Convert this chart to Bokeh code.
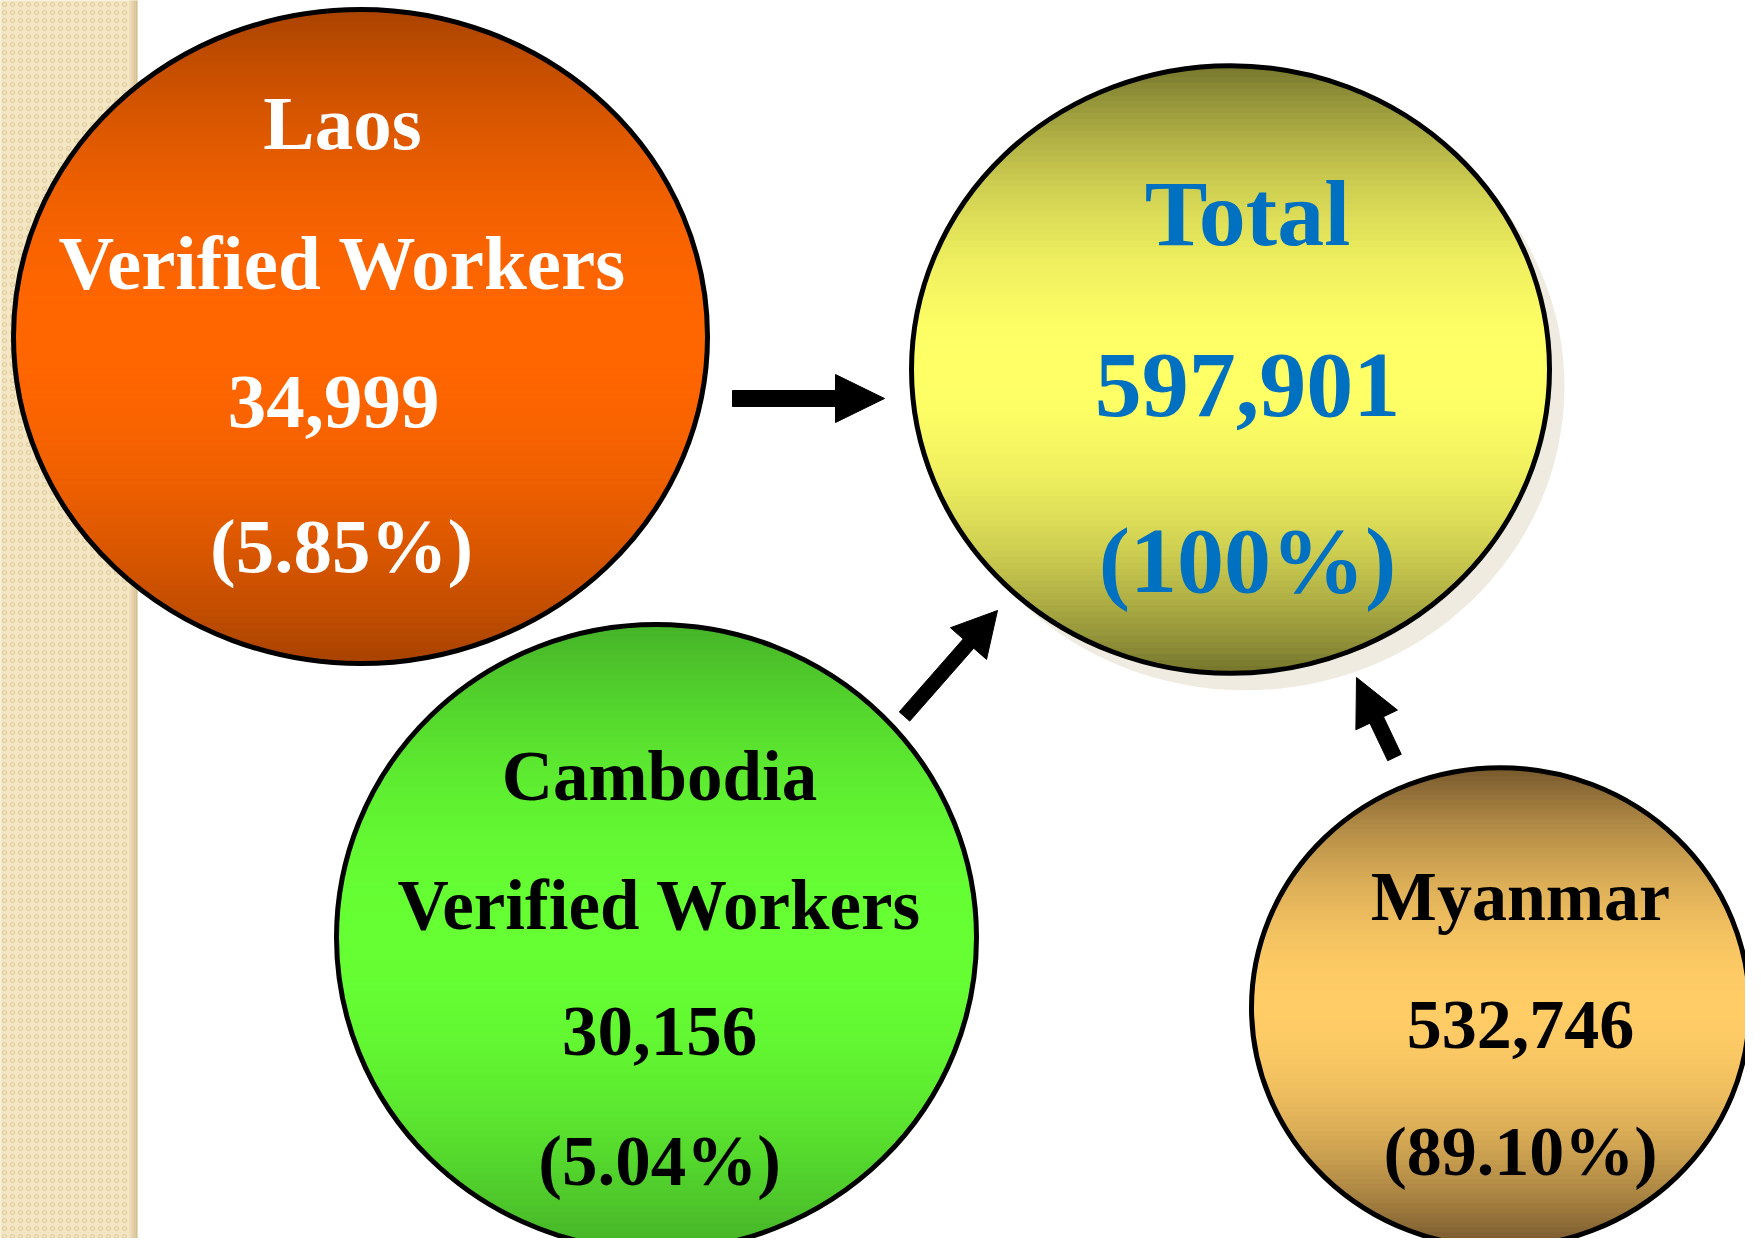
import numpy as np
from bokeh.plotting import figure
from bokeh.models import Range1d
from bokeh.core.properties import value
from bokeh.embed import file_html
from bokeh.resources import INLINE

# ---------------- data ----------------
countries = ["Laos", "Cambodia", "Myanmar"]
subtitles = ["Verified Workers", "Verified Workers", None]
workers = [34999, 30156, 532746]
shares = [5.85, 5.04, 89.10]
total_name = "Total"
total_workers = 597901
total_share = 100

# ---------------- layout (picture pixel coordinates) ----------------
W, H, M = 1761, 1254, 8
FW, FH = W - 2 * M, H - 2 * M
layout = {
    "Laos":     dict(cx=360, cy=336, a=347, b=327, tx=[342, 342, 333, 341], ys=[122, 262, 401, 545],
                     edge="#A84300", mid="#FF6600", tc="white", fs=77),
    "Cambodia": dict(cx=656, cy=937, a=320, b=313, tx=[659] * 4, ys=[775, 904, 1031, 1160],
                     edge="#45B128", mid="#66FF33", tc="black", fs=71),
    "Myanmar":  dict(cx=1500, cy=1007, a=249, b=240, tx=[1520] * 3, ys=[896, 1024, 1151],
                     edge="#74572C", mid="#FFCC66", tc="black", fs=70),
    "Total":    dict(cx=1230, cy=369, a=319, b=304, tx=[1247] * 3, ys=[212, 385, 559],
                     edge="#75752D", mid="#FFFF66", tc="#0070C0", fs=94),
}
GAMMA = 2.0
arrows = [  # tail, tip, shaft width, head width, head length
    ((732, 398), (884, 398), 16, 48, 49),
    ((904, 716), (997, 610), 14, 48, 44),
    ((1394, 757), (1356, 677), 15, 46, 47),
]

p = figure(width=FW, height=FH, output_backend="svg", toolbar_location=None,
           x_range=Range1d(0, FW), y_range=Range1d(FH, 0),
           x_axis_type=None, y_axis_type=None, min_border=0)
p.grid.visible = False
p.outline_line_color = None
p.background_fill_color = "white"
p.border_fill_color = "white"

# left decorative strip
p.quad(left=-20, right=137, bottom=-20, top=H + 20, fill_color="#F4E6C2", line_color=None,
       hatch_pattern="ring", hatch_color="#E0CDA0", hatch_scale=8, hatch_weight=1.2)
for i, c in enumerate(["#EBDCB5", "#E3D2A9", "#DCC89E", "#D4C094"]):
    p.quad(left=129 + 2 * i, right=131 + 2 * i, bottom=-20, top=H + 20, fill_color=c, line_color=None)


def hex2rgb(h):
    h = h.lstrip("#")
    return np.array([int(h[i:i + 2], 16) for i in (0, 2, 4)], dtype=float)


def gradient_ellipse(cx, cy, a, b, edge, mid, n=100):
    e, m = hex2rgb(edge), hex2rgb(mid)
    edges = np.linspace(cy - b, cy + b, n + 1)
    xs, ys, cols = [], [], []
    for i in range(n):
        y0, y1 = edges[i], edges[i + 1]
        yy = np.linspace(y0 - 0.6, y1 + 0.6, 4)
        yy = np.clip(yy, cy - b, cy + b)
        hw = a * np.sqrt(np.clip(1 - ((yy - cy) / b) ** 2, 0, 1))
        xs.append(list(cx - hw) + list((cx + hw)[::-1]))
        ys.append(list(yy) + list(yy[::-1]))
        t = (abs((y0 + y1) / 2 - cy) / b) ** GAMMA
        c = m + (e - m) * t
        cols.append("#%02x%02x%02x" % tuple(int(round(v)) for v in c))
    p.patches(xs, ys, fill_color=cols, line_color=cols, line_width=1)
    p.ellipse(x=[cx], y=[cy], width=[2 * a], height=[2 * b], fill_color=None,
              line_color="black", line_width=5)


# shadow of Total circle
T = layout["Total"]
p.ellipse(x=[T["cx"] + 15], y=[T["cy"] + 17], width=[2 * T["a"]], height=[2 * T["b"]],
          fill_color="#EFEBE0", line_color=None)

font = value("Liberation Serif")


def labels(cfg, lines):
    p.text(x=cfg["tx"][:len(lines)], y=cfg["ys"], text=lines, text_font=font,
           text_font_style="bold", text_font_size=f"{cfg['fs']}px", text_color=cfg["tc"],
           text_align="center", text_baseline="middle")


for name, sub, w, s in zip(countries, subtitles, workers, shares):
    cfg = layout[name]
    gradient_ellipse(cfg["cx"], cfg["cy"], cfg["a"], cfg["b"], cfg["edge"], cfg["mid"])
    lines = [name] + ([sub] if sub else []) + [f"{w:,}", f"({s:.2f}%)"]
    labels(cfg, lines)

gradient_ellipse(T["cx"], T["cy"], T["a"], T["b"], T["edge"], T["mid"])
labels(T, [total_name, f"{total_workers:,}", f"({total_share}%)"])


def arrow_poly(tail, tip, sw, hw, hl):
    t, h = np.array(tail, float), np.array(tip, float)
    d = h - t
    d /= np.linalg.norm(d)
    n = np.array([-d[1], d[0]])
    base = h - d * hl
    pts = [t + n * sw / 2, base + n * sw / 2, base + n * hw / 2, h,
           base - n * hw / 2, base - n * sw / 2, t - n * sw / 2]
    return [q[0] for q in pts], [q[1] for q in pts]


axs, ays = zip(*[arrow_poly(*a) for a in arrows])
p.patches(list(axs), list(ays), fill_color="black", line_color="black", line_width=1)

open("out.html", "w").write(file_html(p, INLINE))
